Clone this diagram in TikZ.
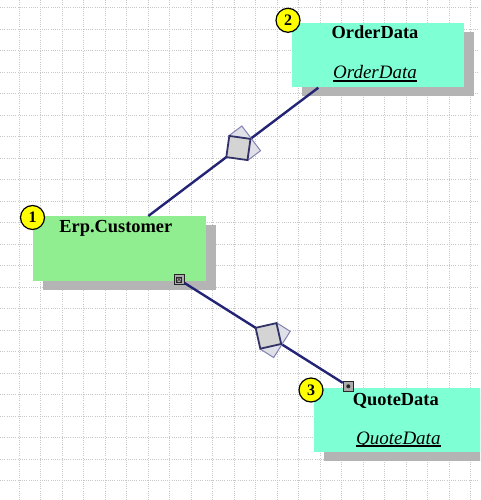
\documentclass[tikz,border=0pt]{standalone}
\usepackage{fontspec}
\setmainfont{Liberation Serif}
\usetikzlibrary{shapes.geometric,calc,shadows}
\definecolor{linenavy}{RGB}{36,36,118}
\definecolor{dmdborder}{RGB}{50,50,105}
\definecolor{dmdfill}{RGB}{212,212,212}
\definecolor{ghostborder}{RGB}{130,130,180}
\definecolor{ghostfill}{RGB}{224,224,232}
\definecolor{greenbox}{RGB}{144,238,144}
\definecolor{aquabox}{RGB}{127,255,212}
\definecolor{shadowgray}{RGB}{180,180,180}
\definecolor{gridgray}{RGB}{200,200,200}
\definecolor{badgeyellow}{RGB}{255,255,0}
\begin{document}
\begin{tikzpicture}[x=1pt,y=-1pt,
  gridline/.style={draw=gridgray, line width=0.8pt, dash pattern=on 1pt off 1.2pt},
  classbox/.style={rectangle, anchor=north west, inner sep=0pt, minimum width=172.3pt, minimum height=64.6pt, draw=none,
    drop shadow={shadow xshift=10pt, shadow yshift=-9pt, opacity=1, fill=shadowgray}},
  titletext/.style={anchor=base, inner sep=0pt, font=\fontsize{18.4}{20}\selectfont\bfseries},
  nametext/.style={anchor=base, inner sep=0pt, font=\fontsize{19}{21}\selectfont\itshape},
  ulrule/.style={draw=black, line width=1.1pt},
  badge/.style={circle, fill=badgeyellow, draw=black, line width=1.2pt, minimum size=24pt, inner sep=0pt, font=\fontsize{16}{16}\selectfont\bfseries},
  flowline/.style={draw=linenavy, line width=2.4pt},
  ghost/.style={rectangle, sloped, anchor=west, fill=ghostfill, draw=ghostborder, line width=1pt, minimum width=15.5pt, minimum height=31pt, inner sep=0pt},
  flowdiamond/.style={diamond, sloped, aspect=1, fill=dmdfill, draw=dmdborder, line width=1.8pt, minimum width=31pt, minimum height=31pt, inner sep=0pt},
  port/.style={rectangle, minimum size=10pt, inner sep=0pt, fill=gray!65, draw=black!85, line width=1pt},
  portx/.style={port, path picture={
      \draw[black!85, line width=0.7pt] ([shift={(2.5pt,2.5pt)}]path picture bounding box.south west) rectangle ([shift={(-2.5pt,-2.5pt)}]path picture bounding box.north east);
      \draw[black!85, line width=0.6pt] ([shift={(2.5pt,2.5pt)}]path picture bounding box.south west) -- ([shift={(-2.5pt,-2.5pt)}]path picture bounding box.north east);
      \draw[black!85, line width=0.6pt] ([shift={(2.5pt,-2.5pt)}]path picture bounding box.north west) -- ([shift={(-2.5pt,2.5pt)}]path picture bounding box.south east);}},
  portdot/.style={port, path picture={
      \fill[black!85] (path picture bounding box.center) circle[radius=2pt];}}
]
\useasboundingbox (0,0) rectangle (480,500);
\clip (0,0) rectangle (480,500);
\fill[white] (0,0) rectangle (480,500);
% grid
\foreach \i in {0,...,21} \draw[gridline] (19+21.5*\i,0) -- (19+21.5*\i,500);
\foreach \j in {0,...,22} \draw[gridline] (0,7.7+21.5*\j) -- (480,7.7+21.5*\j);
% boxes
\node[classbox, fill=greenbox, minimum width=173pt, minimum height=65pt] (cust) at (33,216) {};
\node[classbox, fill=aquabox] (od) at (291.7,22.7) {};
\node[classbox, fill=aquabox, minimum height=64.4pt] (qd) at (313.3,387.3) {};
% texts
\node[titletext] (custtitle) at (115.8,232.7) {Erp.Customer};
\node[titletext] (odtitle) at (375,39) {OrderData};
\node[nametext] (odname) at (375,79) {OrderData};
\draw[ulrule] ([yshift=-2pt]odname.base west) -- ([yshift=-2pt]odname.base east);
\node[titletext] (qdtitle) at (395.8,405) {QuoteData};
\node[nametext] (qdname) at (398.3,444) {QuoteData};
\draw[ulrule] ([yshift=-2pt]qdname.base west) -- ([yshift=-2pt]qdname.base east);
% badges
\node[badge] (b1) at (32.5,217.5) {1};
\node[badge] (b2) at (288,20.3) {2};
\node[badge] (b3) at (311,390) {3};
% connector 1
\coordinate (c1a) at ($(cust.north west)+(115.3,0)$);
\coordinate (c1b) at ($(od.south west)+(26.6,0)$);
\draw[flowline] (c1a) -- (c1b);
\path (c1a) -- (c1b) node[ghost, pos=0.53] (g1) {} node[flowdiamond, pos=0.53] (d1) {};
% connector 2
\node[portx] (cport) at (179,279.5) {};
\node[portdot] (qport) at (348.3,386.3) {};
\draw[flowline] (cport) -- (qport);
\path (cport) -- (qport) node[ghost, pos=0.53] (g2) {} node[flowdiamond, pos=0.53] (d2) {};
\end{tikzpicture}
\end{document}
